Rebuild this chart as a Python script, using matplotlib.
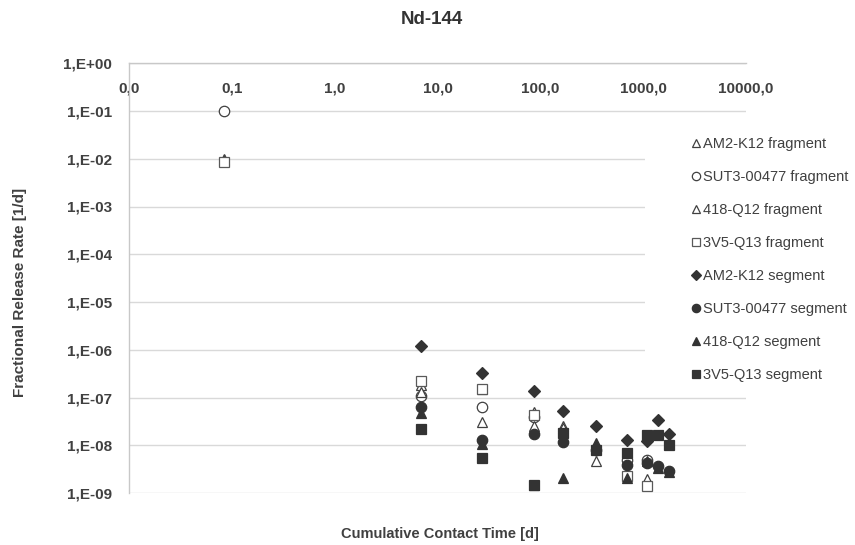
import matplotlib
matplotlib.use("Agg")
import matplotlib.pyplot as plt
from matplotlib.ticker import FixedLocator, NullLocator
from matplotlib.patches import Rectangle

plt.rcParams['font.family'] = ['Liberation Sans', 'DejaVu Sans']

# ---- data ----
frag_AM2_t = [0.083, 6.9, 27, 87, 167, 347, 693, 1086]
frag_AM2_v = [9.8e-3, 1.8e-7, 1.5e-7, 5.0e-8, 2.5e-8, 4.7e-9, 2.5e-9, 2.0e-9]

frag_SUT3_t = [0.083, 6.9, 27, 87, 693, 1086]
frag_SUT3_v = [1.0e-1, 1.1e-7, 6.2e-8, 4.0e-8, 5.0e-9, 5.0e-9]

frag_418_t = [0.083, 6.9, 27, 87, 167]
frag_418_v = [9.5e-3, 1.3e-7, 3.0e-8, 2.5e-8, 2.3e-8]

frag_3V5_t = [0.083, 6.9, 27, 87, 693, 1086]
frag_3V5_v = [8.5e-3, 2.2e-7, 1.5e-7, 4.2e-8, 2.3e-9, 1.4e-9]

seg_AM2_t = [6.9, 27, 87, 167, 347, 693, 1086, 1390, 1790]
seg_AM2_v = [1.2e-6, 3.3e-7, 1.35e-7, 5.3e-8, 2.5e-8, 1.3e-8, 1.25e-8, 3.4e-8, 1.7e-8]

seg_SUT3_t = [6.9, 27, 87, 167, 347, 693, 1086, 1390, 1790]
seg_SUT3_v = [6.2e-8, 1.3e-8, 1.7e-8, 1.15e-8, 8.0e-9, 3.8e-9, 4.2e-9, 3.6e-9, 2.9e-9]

seg_418_t = [6.9, 27, 87, 167, 347, 693, 1086, 1390, 1790]
seg_418_v = [4.8e-8, 1.05e-8, 1.5e-9, 2.1e-9, 1.1e-8, 2.1e-9, 4.6e-9, 3.3e-9, 2.8e-9]

seg_3V5_t = [6.9, 27, 87, 167, 347, 693, 1086, 1390, 1790]
seg_3V5_v = [2.15e-8, 5.4e-9, 1.45e-9, 1.8e-8, 7.9e-9, 6.8e-9, 1.65e-8, 1.65e-8, 1.0e-8]

labels = ["AM2-K12 fragment", "SUT3-00477 fragment", "418-Q12 fragment", "3V5-Q13 fragment",
          "AM2-K12 segment", "SUT3-00477 segment", "418-Q12 segment", "3V5-Q13 segment"]

x_ticks = [0.01, 0.1, 1, 10, 100, 1000, 10000]
x_ticklabels = ["0,0", "0,1", "1,0", "10,0", "100,0", "1000,0", "10000,0"]
y_ticks = [1e0, 1e-1, 1e-2, 1e-3, 1e-4, 1e-5, 1e-6, 1e-7, 1e-8, 1e-9]
y_ticklabels = ["1,E+00", "1,E-01", "1,E-02", "1,E-03", "1,E-04", "1,E-05",
                "1,E-06", "1,E-07", "1,E-08", "1,E-09"]

# ---- figure ----
fig = plt.figure(figsize=(8.55, 5.45), dpi=100)
ax = fig.add_axes([129/855, 1-493/545, (746-129)/855, (493-63.25)/545])

dark = "#333333"
edge = "#404040"
ms = 7.5
series = [
    (frag_AM2_t, frag_AM2_v, dict(marker='^', mfc='white', mec=edge, ms=ms)),
    (frag_SUT3_t, frag_SUT3_v, dict(marker='o', mfc='white', mec=edge, ms=ms)),
    (frag_418_t, frag_418_v, dict(marker='^', mfc='white', mec=edge, ms=ms)),
    (frag_3V5_t, frag_3V5_v, dict(marker='s', mfc='white', mec="#595959", ms=ms)),
    (seg_AM2_t, seg_AM2_v, dict(marker='D', mfc=dark, mec=dark, ms=6)),
    (seg_SUT3_t, seg_SUT3_v, dict(marker='o', mfc=dark, mec=dark, ms=ms)),
    (seg_418_t, seg_418_v, dict(marker='^', mfc=dark, mec=dark, ms=ms)),
    (seg_3V5_t, seg_3V5_v, dict(marker='s', mfc=dark, mec=dark, ms=ms)),
]
for (t, v, st), lab in zip(series, labels):
    ax.plot(t, v, linestyle='none', mew=0.9, label=lab, zorder=3, **st)

ax.set_xscale('log')
ax.set_yscale('log')
ax.set_xlim(0.01, 10000)
ax.set_ylim(1e-9, 1e0)

ax.xaxis.set_major_locator(FixedLocator(x_ticks))
ax.xaxis.set_minor_locator(NullLocator())
ax.set_xticklabels(x_ticklabels)
ax.yaxis.set_major_locator(FixedLocator(y_ticks))
ax.yaxis.set_minor_locator(NullLocator())
ax.set_yticklabels(y_ticklabels)

ax.tick_params(axis='x', top=True, labeltop=True, bottom=False, labelbottom=False,
               length=0, pad=-13, labelsize=11, labelcolor="#404040")
ax.tick_params(axis='y', length=0, pad=12, labelsize=11, labelcolor="#404040")
for lbl in ax.get_xticklabels() + ax.get_yticklabels():
    lbl.set_fontweight('bold')
for lbl in ax.get_xticklabels():
    lbl.set_verticalalignment('top')

ax.grid(axis='y', color="#d9d9d9", linewidth=1.0)
ax.set_axisbelow(True)
for s in ['right', 'bottom']:
    ax.spines[s].set_visible(False)
for s in ['left', 'top']:
    ax.spines[s].set_color("#c8c8c8")
    ax.spines[s].set_linewidth(1.0)

# white legend area (hides gridlines like the reference)
fig.patches.append(Rectangle((645/855, 1-390/545), (855-645)/855, (390-120)/545,
                             transform=fig.transFigure, facecolor='white',
                             edgecolor='none', zorder=2))

fig.text(0.505, 1-20/545, "Nd-144", ha='center', va='center', fontsize=13.5,
         fontweight='bold', color="#333333")
fig.text(0.515, 1-534/545, "Cumulative Contact Time [d]", ha='center', va='center',
         fontsize=10.5, fontweight='bold', color="#404040")
fig.text(20/855, 1-292/545, "Fractional Release Rate [1/d]", ha='center', va='center',
         rotation=90, fontsize=11, fontweight='bold', color="#404040")

leg = fig.legend(loc='upper left', bbox_to_anchor=(676/855, 1-121/545),
                 bbox_transform=fig.transFigure, frameon=False,
                 fontsize=10.5, labelspacing=1.3, handlelength=0.6,
                 handletextpad=0.15, borderpad=0.6, markerscale=0.8)
leg.set_zorder(5)
for txt in leg.get_texts():
    txt.set_color("#404040")

fig.savefig("out.png", dpi=100)
